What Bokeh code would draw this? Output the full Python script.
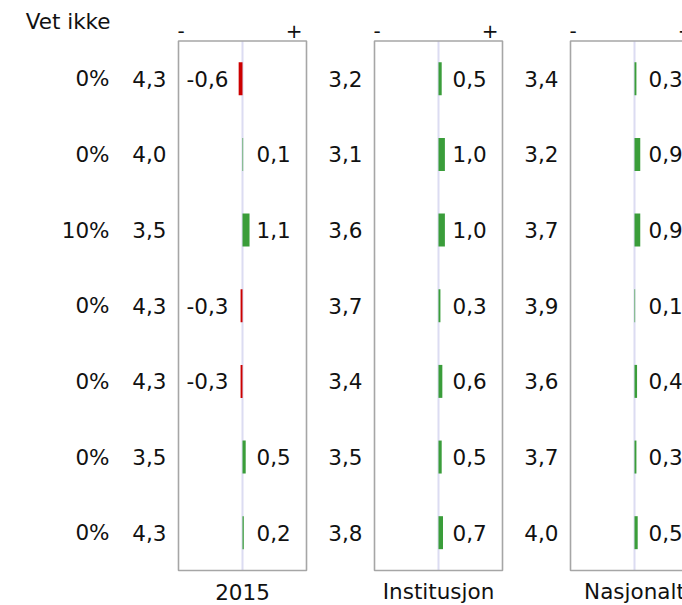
from bokeh.plotting import figure
from bokeh.models import Range1d, ColumnDataSource
from bokeh.core.properties import value
from bokeh.embed import file_html
from bokeh.resources import INLINE

# ---- data ----
header = "Vet ikke"
vet_ikke = ["0%", "0%", "10%", "0%", "0%", "0%", "0%"]
panel_names = ["2015", "Institusjon", "Nasjonalt"]
means_2015 = [4.3, 4.0, 3.5, 4.3, 4.3, 3.5, 4.3]
diff_2015 = [-0.6, 0.1, 1.1, -0.3, -0.3, 0.5, 0.2]
means_inst = [3.2, 3.1, 3.6, 3.7, 3.4, 3.5, 3.8]
diff_inst = [0.5, 1.0, 1.0, 0.3, 0.6, 0.5, 0.7]
means_nasj = [3.4, 3.2, 3.7, 3.9, 3.6, 3.7, 4.0]
diff_nasj = [0.3, 0.9, 0.9, 0.1, 0.4, 0.3, 0.5]
panel_means = [means_2015, means_inst, means_nasj]
panel_diffs = [diff_2015, diff_inst, diff_nasj]

# ---- layout (value units: 6.4 px per unit, rows: 1 unit per row) ----
W, H = 682, 605
PX = 6.4
HALF = 10.0             # panel spans -10..+10
SPACING = 196 / PX      # distance between panel centres
BOX_TOP, BOX_BOT = 40.5, 570.0
ROW_PX = (BOX_BOT - BOX_TOP) / 7
x0 = -242 / PX
y_top = -0.5 - BOX_TOP / ROW_PX
y_bot = 6.5 + (H - BOX_BOT) / ROW_PX
n = len(vet_ikke)
rows = list(range(n))

FONT = value("DejaVu Sans")
FS = "21.5px"
RED = "#cc0000"
GREEN = "#3a9d3a"
TXT = "#111111"

p = figure(width=W, height=H, output_backend="svg", toolbar_location=None,
           x_range=Range1d(x0, x0 + W / PX), y_range=Range1d(y_bot, y_top),
           min_border=0, min_border_left=0, min_border_right=0,
           min_border_top=0, min_border_bottom=0)
p.axis.visible = False
p.xgrid.visible = False
p.ygrid.visible = False
p.outline_line_color = None
p.background_fill_color = "white"
p.border_fill_color = "white"

def fmt(v):
    return f"{v:.1f}".replace(".", ",")

def ypx(py):
    return y_top + py / ROW_PX

def xpx(px):
    return x0 + px / PX

# header and "Vet ikke" column
p.text(x=[xpx(110)], y=[ypx(20.5)], text=[header],
       text_font=FONT, text_font_size=FS, text_align="right",
       text_baseline="middle", text_color=TXT)
p.text(x=[xpx(109)] * n, y=rows, text=vet_ikke,
       text_font=FONT, text_font_size=FS, text_align="right",
       text_baseline="middle", text_color=TXT)

for k, (name, means, diffs) in enumerate(zip(panel_names, panel_means, panel_diffs)):
    c = k * SPACING
    # centre line
    p.segment(x0=[c], y0=[-0.5], x1=[c], y1=[6.5], line_color="#dcdcf2", line_width=2)
    # box
    p.quad(left=[c - HALF], right=[c + HALF], top=[-0.5], bottom=[6.5],
           fill_color=None, line_color="#a6a6a6", line_width=1.6)
    # bars
    src = ColumnDataSource(dict(
        left=[c + min(0, d) for d in diffs],
        right=[c + max(0, d) for d in diffs],
        top=[r - 0.218 for r in rows],
        bottom=[r + 0.218 for r in rows],
        color=[RED if d < 0 else GREEN for d in diffs],
    ))
    p.quad(left="left", right="right", top="top", bottom="bottom",
           fill_color="color", line_color=None, source=src)
    # mean labels
    p.text(x=[c - 76 / PX] * n, y=rows, text=[fmt(m) for m in means],
           text_font=FONT, text_font_size=FS, text_align="right",
           text_baseline="middle", text_color=TXT)
    # diff labels
    pos = [i for i, d in enumerate(diffs) if d >= 0]
    neg = [i for i, d in enumerate(diffs) if d < 0]
    if pos:
        p.text(x=[c + 14 / PX] * len(pos), y=pos, text=[fmt(diffs[i]) for i in pos],
               text_font=FONT, text_font_size=FS, text_align="left",
               text_baseline="middle", text_color=TXT)
    if neg:
        p.text(x=[c - 14 / PX] * len(neg), y=neg, text=[fmt(diffs[i]) for i in neg],
               text_font=FONT, text_font_size=FS, text_align="right",
               text_baseline="middle", text_color=TXT)
    # - / + header
    p.text(x=[c - 65 / PX], y=[ypx(30)], text=["-"],
           text_font=FONT, text_font_size="20px", text_align="left",
           text_baseline="middle", text_color=TXT)
    p.text(x=[c + 60 / PX], y=[ypx(30)], text=["+"],
           text_font=FONT, text_font_size="20px", text_align="right",
           text_baseline="middle", text_color=TXT)
    # panel name
    p.text(x=[c], y=[ypx(591)], text=[name],
           text_font=FONT, text_font_size=FS, text_align="center",
           text_baseline="middle", text_color=TXT)

open("out.html", "w").write(file_html(p, INLINE))
